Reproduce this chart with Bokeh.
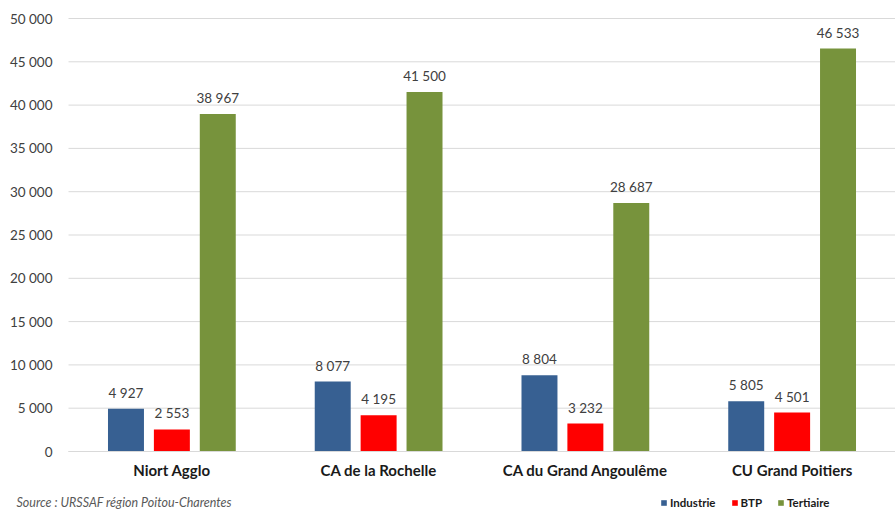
from bokeh.plotting import figure
from bokeh.models import (ColumnDataSource, Range1d, Legend, LegendItem,
                          Label, FixedTicker)
from bokeh.transform import dodge
from bokeh.core.properties import value
from bokeh.embed import file_html
from bokeh.resources import INLINE

categories = ["Niort Agglo", "CA de la Rochelle", "CA du Grand Angoulême", "CU Grand Poitiers"]
industrie = [4927, 8077, 8804, 5805]
btp = [2553, 4195, 3232, 4501]
tertiaire = [38967, 41500, 28687, 46533]
series_names = ["Industrie", "BTP", "Tertiaire"]
y_ticks = [0, 5000, 10000, 15000, 20000, 25000, 30000, 35000, 40000, 45000, 50000]
source_text = "Source : URSSAF région Poitou-Charentes"

colors = ["#376092", "#ff0000", "#77933c"]
FONT = "Lato"

W, H = 895, 509


def fmt(v):
    return f"{v:,}".replace(",", " ")


ncat = len(categories)
xc = [i + 0.5 for i in range(ncat)]

src = ColumnDataSource(dict(
    xc=xc,
    industrie=industrie, btp=btp, tertiaire=tertiaire,
    l_ind=[fmt(v) for v in industrie],
    l_btp=[fmt(v) for v in btp],
    l_ter=[fmt(v) for v in tertiaire],
))

# plot area: x from 68 px to 895 px, y: 50 000 at 18 px, 0 at 451 px
px_per_cat = (W - 68) / ncat
x_start = -68 / px_per_cat
y_max = max(y_ticks)
px_per_val = 433 / y_max
y_end = y_max + 18 / px_per_val
y_start = -(H - 451) / px_per_val

p = figure(width=W, height=H, x_range=Range1d(x_start, ncat),
           y_range=Range1d(y_start, y_end), output_backend="svg", toolbar_location=None,
           min_border=0)
p.outline_line_color = None
p.background_fill_color = "white"
p.border_fill_color = "white"

# horizontal gridlines limited to the plot area
p.segment(x0=[0] * len(y_ticks), x1=[ncat] * len(y_ticks), y0=y_ticks, y1=y_ticks,
          line_color="#d9d9d9", line_width=1)

bw = 0.174
off = 0.222
fields = ["industrie", "btp", "tertiaire"]
lfields = ["l_ind", "l_btp", "l_ter"]
offsets = [-off, 0, off]
renderers = []
for f, lf, o, c in zip(fields, lfields, offsets, colors):
    r = p.vbar(x=dodge("xc", o), top=f, bottom=0, width=bw, source=src,
               fill_color=c, line_color=None)
    renderers.append(r)
    p.text(x=dodge("xc", o), y=f, text=lf, source=src,
           text_align="center", text_baseline="bottom", y_offset=-8,
           text_font=value(FONT), text_font_size="13.5px", text_color="#404040")

# axes
p.yaxis.fixed_location = 0
p.yaxis.bounds = (0, y_max)
p.yaxis.ticker = FixedTicker(ticks=y_ticks)
p.yaxis.major_label_overrides = {t: fmt(t) for t in y_ticks}
p.yaxis.axis_line_color = None
p.yaxis.major_tick_line_color = None
p.yaxis.minor_tick_line_color = None
p.yaxis.major_label_text_font = FONT
p.yaxis.major_label_text_font_size = "13.5px"
p.yaxis.major_label_text_color = "#404040"
p.yaxis.major_label_standoff = 10

p.xaxis.fixed_location = 0
p.xaxis.bounds = (0, ncat)
p.xaxis.ticker = FixedTicker(ticks=xc)
p.xaxis.major_label_overrides = {x: c for x, c in zip(xc, categories)}
p.xaxis.axis_line_color = "#d9d9d9"
p.xaxis.major_tick_line_color = None
p.xaxis.minor_tick_line_color = None
p.xaxis.major_label_text_font = FONT
p.xaxis.major_label_text_font_style = "bold"
p.xaxis.major_label_text_font_size = "15px"
p.xaxis.major_label_text_color = "#1a1a1a"
p.xaxis.major_label_standoff = 3

p.xgrid.visible = False
p.ygrid.visible = False

legend = Legend(items=[LegendItem(label=n, renderers=[r]) for n, r in zip(series_names, renderers)],
                orientation="horizontal", location=(660, 0),
                glyph_width=7, glyph_height=7, label_standoff=3, spacing=15,
                padding=0, margin=0, border_line_color=None, background_fill_alpha=0,
                label_text_font=FONT, label_text_font_style="bold",
                label_text_font_size="11.5px", label_text_color="#1a1a1a",
                label_height=10)
p.add_layout(legend, "center")

p.add_layout(Label(x=16, y=0, x_units="screen", y_units="screen",
                   text=source_text, text_font=FONT,
                   text_font_style="italic", text_font_size="12.5px", text_color="#595959",
                   text_baseline="bottom"))

open("out.html", "w").write(file_html(p, INLINE))
